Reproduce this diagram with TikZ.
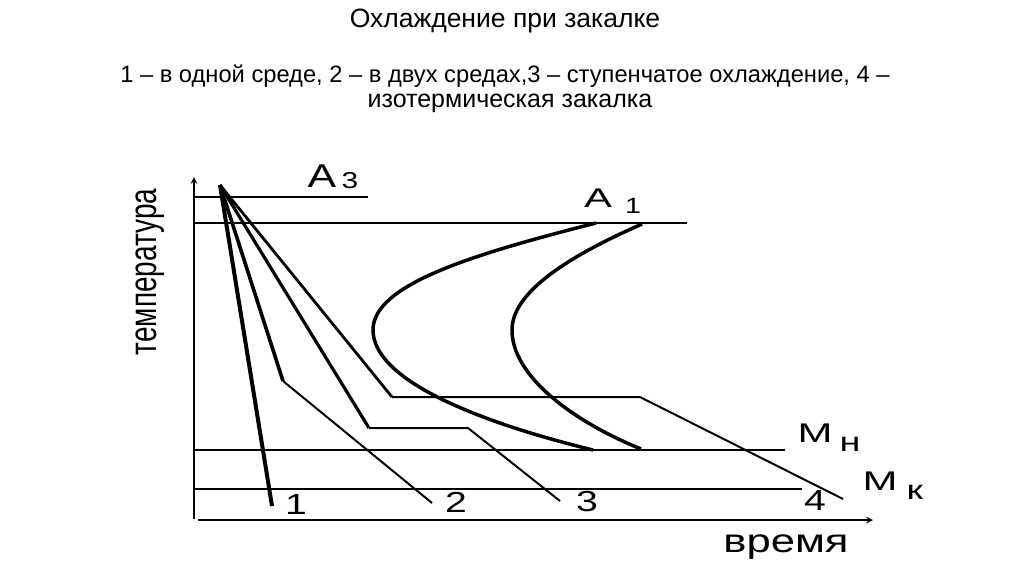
\documentclass[tikz,border=0pt]{standalone}
\usepackage{fontspec}
\setmainfont{Liberation Sans}
\usepackage{graphicx}

\newlength{\du}
\setlength{\du}{1pt}
\newcommand{\widetext}[2]{\scalebox{#1}[1]{#2}}
\newcommand{\fsize}[1]{\fontsize{#1}{#1}\selectfont}

\begin{document}
\begin{tikzpicture}
\pgftransformxscale{1.000000}
\pgftransformyscale{-1.000000}
\useasboundingbox (0\du,0\du) rectangle (1024\du,574\du);
\definecolor{dialinecolor}{rgb}{0.000000, 0.000000, 0.000000}
\pgfsetstrokecolor{dialinecolor}
\pgfsetfillcolor{dialinecolor}
% setfont left to latex
\node[anchor=base] (title) at (505\du,27\du){\fsize{26.5}Охлаждение при закалке};
\node[anchor=base] (legend1) at (505\du,82\du){\fsize{23.7}1 – в одной среде, 2 – в двух средах,3 – ступенчатое охлаждение, 4 –};
\node[anchor=base] (legend2) at (510\du,107\du){\fsize{25}изотермическая закалка};
% axes
\coordinate (ybottom) at (194\du,519\du);
\coordinate (ytop) at (194\du,177\du);
\coordinate (xleft) at (198\du,520\du);
\coordinate (xright) at (873\du,520\du);
\pgfsetlinewidth{2.000000\du}
\pgfsetdash{}{0pt}
\pgfsetbuttcap
{
\pgfsetarrowsend{stealth}
\draw (ybottom)--(ytop);
\draw (xleft)--(xright);
}
% critical points
\coordinate (a3left) at (195\du,197\du);
\coordinate (a3right) at (368\du,197\du);
\coordinate (a1left) at (195\du,223\du);
\coordinate (a1right) at (687\du,223\du);
\coordinate (mnleft) at (195\du,450\du);
\coordinate (mnright) at (785\du,450\du);
\coordinate (mkleft) at (195\du,489\du);
\coordinate (mkright) at (802\du,489\du);
\pgfsetlinewidth{1.800000\du}
\draw (a3left)--(a3right);
\draw (a1left)--(a1right);
\draw (mnleft)--(mnright);
\draw (mkleft)--(mkright);
% C-curves
\coordinate (begtop) at (596\du,223\du);
\coordinate (begnose) at (373\du,330\du);
\coordinate (begbottom) at (593\du,450\du);
\coordinate (endtop) at (642\du,224\du);
\coordinate (endnose) at (512\du,330\du);
\coordinate (endbottom) at (641\du,449\du);
\pgfsetlinewidth{3.500000\du}
\pgfsetroundjoin
\draw (begtop) .. controls (470\du,255\du) and (373\du,285\du) .. (begnose)
  .. controls (373\du,378\du) and (470\du,420\du) .. (begbottom);
\draw (endtop) .. controls (560\du,260\du) and (512\du,295\du) .. (endnose)
  .. controls (512\du,375\du) and (570\du,420\du) .. (endbottom);
% cooling curves
\coordinate (start) at (220\du,185\du);
\coordinate (oneend) at (272\du,506\du);
\coordinate (twobend) at (283\du,381\du);
\coordinate (twoend) at (432\du,503\du);
\coordinate (threebend) at (369\du,428\du);
\coordinate (threestep) at (468\du,428\du);
\coordinate (threeend) at (560\du,501\du);
\coordinate (fourbend) at (392\du,397\du);
\coordinate (fourstep) at (640\du,397\du);
\coordinate (fourend) at (843\du,499\du);
\pgfsetlinewidth{4.000000\du}
\draw (start)--(oneend);
\pgfsetlinewidth{3.600000\du}
\draw (start)--(twobend);
\pgfsetlinewidth{3.200000\du}
\draw (start)--(threebend);
\pgfsetlinewidth{2.800000\du}
\draw (start)--(fourbend);
\pgfsetlinewidth{2.000000\du}
\draw (twobend)--(twoend);
\draw (threebend)--(threestep)--(threeend);
\draw (fourbend)--(fourstep)--(fourend);
% setfont left to latex
\node[anchor=base] (labelone) at (296\du,514\du){\fsize{29}\widetext{1.35}{1}};
\node[anchor=base] (labeltwo) at (456\du,512\du){\fsize{29}\widetext{1.35}{2}};
\node[anchor=base] (labelthree) at (587\du,511\du){\fsize{29}\widetext{1.35}{3}};
\node[anchor=base] (labelfour) at (815\du,510\du){\fsize{29}\widetext{1.35}{4}};
\node[anchor=base] (a3name) at (322\du,187\du){\fsize{33}\widetext{1.3}{A}};
\node[anchor=base] (a3index) at (350\du,188\du){\fsize{23}\widetext{1.3}{3}};
\node[anchor=base] (a1name) at (598\du,207\du){\fsize{27}\widetext{1.55}{A}};
\node[anchor=base] (a1index) at (633\du,213\du){\fsize{22}\widetext{1.3}{1}};
\node[anchor=base] (mnname) at (815\du,442\du){\fsize{27}\widetext{1.55}{M}};
\node[anchor=base] (mnindex) at (850\du,451\du){\fsize{27}\widetext{1.4}{н}};
\node[anchor=base] (mkname) at (880\du,490\du){\fsize{27}\widetext{1.55}{M}};
\node[anchor=base] (mkindex) at (915\du,499\du){\fsize{27}\widetext{1.4}{к}};
\node[anchor=base] (timename) at (786\du,552\du){\fsize{33}\widetext{1.32}{время}};
\node[rotate=90] (tempname) at (150\du,272\du){\fsize{28}\scalebox{1}[1.37]{температура}};
\end{tikzpicture}
\end{document}
